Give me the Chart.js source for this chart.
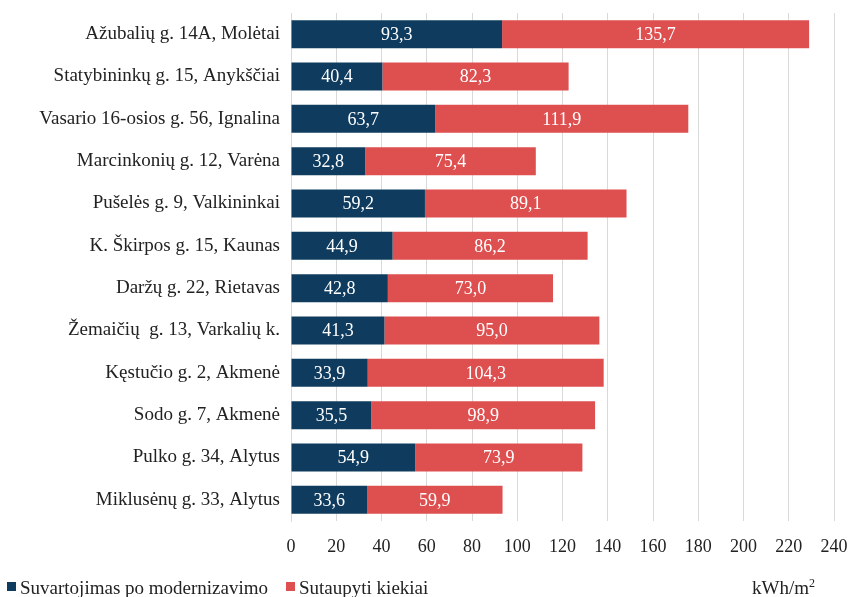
<!DOCTYPE html>
<html>
<head>
<meta charset="utf-8">
<script src="https://cdn.jsdelivr.net/npm/chart.js@4.4.1/dist/chart.umd.min.js"></script>
<style>
  html, body { margin: 0; padding: 0; background: #fff; }
  #wrap { width: 850px; height: 597px; }
</style>
</head>
<body>
<div id="wrap"><canvas id="chart" width="850" height="597"></canvas></div>
<script>
const addresses = [
    'Ažubalių g. 14A, Molėtai',
    'Statybininkų g. 15, Anykščiai',
    'Vasario 16-osios g. 56, Ignalina',
    'Marcinkonių g. 12, Varėna',
    'Pušelės g. 9, Valkininkai',
    'K. Škirpos g. 15, Kaunas',
    'Daržų g. 22, Rietavas',
    'Žemaičių  g. 13, Varkalių k.',
    'Kęstučio g. 2, Akmenė',
    'Sodo g. 7, Akmenė',
    'Pulko g. 34, Alytus',
    'Miklusėnų g. 33, Alytus'
];
const afterModernization = [93.3, 40.4, 63.7, 32.8, 59.2, 44.9, 42.8, 41.3, 33.9, 35.5, 54.9, 33.6];
const savedAmount = [135.7, 82.3, 111.9, 75.4, 89.1, 86.2, 73.0, 95.0, 104.3, 98.9, 73.9, 59.9];
const xTicks = [0, 20, 40, 60, 80, 100, 120, 140, 160, 180, 200, 220, 240];

const FONT = "'Liberation Serif', 'Times New Roman', serif";
const TEXT = '#222222';

// value labels inside each bar segment, decimal comma
const segmentLabels = {
    id: 'segmentLabels',
    afterDatasetsDraw(chart) {
        const ctx = chart.ctx;
        ctx.save();
        ctx.font = `18px ${FONT}`;
        ctx.fillStyle = '#ffffff';
        ctx.textAlign = 'center';
        ctx.textBaseline = 'middle';
        chart.data.datasets.forEach((ds, di) => {
            chart.getDatasetMeta(di).data.forEach((bar, i) => {
                const x = (bar.x + bar.base) / 2;
                ctx.fillText(ds.data[i].toFixed(1).replace('.', ','), x, bar.y + 1);
            });
        });
        ctx.restore();
    }
};

// legend row and unit caption along the bottom edge
const bottomLegend = {
    id: 'bottomLegend',
    afterDraw(chart) {
        const ctx = chart.ctx;
        const y = 594;
        ctx.save();
        ctx.textBaseline = 'alphabetic';
        ctx.textAlign = 'left';
        ctx.font = `19px ${FONT}`;
        let x = 7;
        chart.data.datasets.forEach(ds => {
            ctx.fillStyle = ds.backgroundColor;
            ctx.fillRect(x, y - 12, 9, 9);
            x += 13;
            ctx.fillStyle = TEXT;
            ctx.fillText(ds.label, x, y);
            x += ctx.measureText(ds.label).width + 18;
        });

        const ux = 752;
        ctx.fillText('kWh/m', ux, y);
        const w = ctx.measureText('kWh/m').width;
        ctx.font = `12px ${FONT}`;
        ctx.fillText('2', ux + w, y - 7);
        ctx.restore();
    }
};

// keep the plot area fixed: no extra room for overhanging tick labels
const noLabelPadding = (scale) => {
    scale.paddingTop = 0;
    scale.paddingBottom = 0;
    scale.paddingLeft = 0;
    scale.paddingRight = 0;
};

new Chart(document.getElementById('chart'), {
    type: 'bar',
    data: {
        labels: addresses,
        datasets: [
            {
                label: 'Suvartojimas po modernizavimo',
                data: afterModernization,
                backgroundColor: '#0f3c5e',
                categoryPercentage: 1,
                barPercentage: 0.66
            },
            {
                label: 'Sutaupyti kiekiai',
                data: savedAmount,
                backgroundColor: '#de4f50',
                categoryPercentage: 1,
                barPercentage: 0.66
            }
        ]
    },
    options: {
        indexAxis: 'y',
        responsive: false,
        animation: false,
        layout: { padding: { top: 13, right: 16, left: 0, bottom: 0 } },
        scales: {
            x: {
                stacked: true,
                min: 0,
                max: 240,
                afterBuildTicks: (scale) => { scale.ticks = xTicks.map(v => ({ value: v })); },
                grid: { color: '#d9d9d9', drawTicks: false },
                border: { display: false },
                ticks: {
                    color: TEXT,
                    padding: 15,
                    font: { family: FONT, size: 18 }
                },
                afterFit: (scale) => { scale.height = 76; noLabelPadding(scale); }
            },
            y: {
                stacked: true,
                grid: { display: false, drawTicks: false },
                border: { color: '#d9d9d9' },
                ticks: {
                    color: TEXT,
                    padding: 11,
                    font: { family: FONT, size: 19 }
                },
                afterFit: (scale) => { scale.width = 291; noLabelPadding(scale); }
            }
        },
        plugins: {
            legend: { display: false },
            tooltip: { enabled: false }
        }
    },
    plugins: [segmentLabels, bottomLegend]
});
</script>
</body>
</html>
